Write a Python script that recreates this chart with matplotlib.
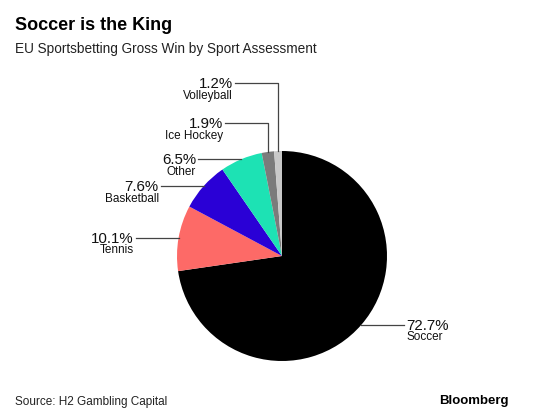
import numpy as np
import matplotlib.pyplot as plt

plt.rcParams['font.family'] = ['Liberation Sans', 'DejaVu Sans']

# data
sports = ['Soccer', 'Tennis', 'Basketball', 'Other', 'Ice Hockey', 'Volleyball']
shares = [72.7, 10.1, 7.6, 6.5, 1.9, 1.2]
colors = ['#000000', '#fd6a67', '#2a00d6', '#1de2b4', '#7b7b7b', '#c9c9c9']

fig = plt.figure(figsize=(5.6, 4.15), dpi=100)

# pie axes: centre at (282, 256) px, radius 105 px
W, H = 560, 415
cx, cy, r = 282, 256, 105
ax = fig.add_axes([(cx - r) / W, (H - cy - r) / H, 2 * r / W, 2 * r / H])
wedges, _ = ax.pie(shares, colors=colors, startangle=90, counterclock=False,
                   radius=1, wedgeprops=dict(linewidth=0))
ax.set_xlim(-1, 1)
ax.set_ylim(-1, 1)
ax.set_aspect('equal')
ax.axis('off')

line_len = 43 / r
gap = 2 / r
pct_dy = 5 / r
name_dy = 15.5 / r
elbow_y = {'Ice Hockey': (256 - 123) / r, 'Volleyball': (256 - 83) / r}

for w, name, val in zip(wedges, sports, shares):
    ang = np.deg2rad((w.theta1 + w.theta2) / 2)
    x0, y0 = np.cos(ang), np.sin(ang)
    if name in elbow_y:
        ye = elbow_y[name]
        xs = [x0, x0, x0 - line_len]
        ys = [y0, ye, ye]
    else:
        side = 1 if x0 > 0 else -1
        xs = [x0, x0 + side * line_len]
        ys = [y0, y0]
    ax.plot(xs, ys, color='#444444', lw=0.9, clip_on=False)
    xe, ye = xs[-1], ys[-1]
    if xe > xs[-2]:
        tx, ha = xe + gap, 'left'
    else:
        tx, ha = xe - gap, 'right'
    ax.text(tx, ye - pct_dy, f'{val}%', ha=ha, va='baseline', fontsize=10.8,
            color='#111111')
    ax.text(tx, ye - name_dy, name, ha=ha, va='baseline', fontsize=8.5,
            color='#111111')

fig.text(15 / W, 1 - 26 / H, 'Soccer is the King', fontsize=13, fontweight='bold',
         va='center', ha='left')
fig.text(15 / W, 1 - 49 / H, 'EU Sportsbetting Gross Win by Sport Assessment',
         fontsize=9.8, va='center', ha='left', color='#222222')
fig.text(15 / W, 1 - 402 / H, 'Source: H2 Gambling Capital', fontsize=8.5,
         va='center', ha='left', color='#222222')
fig.text(509 / W, 1 - 401 / H, 'Bloomberg', fontsize=9.5, fontweight='bold',
         va='center', ha='right')

fig.savefig('out.png', dpi=100)
